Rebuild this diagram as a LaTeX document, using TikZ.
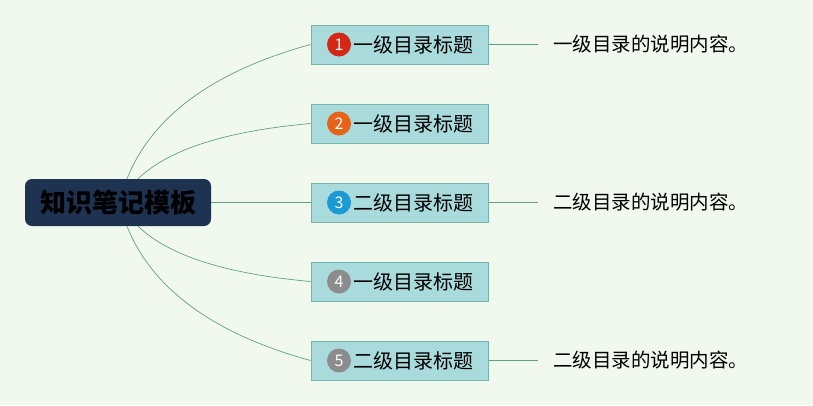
\documentclass[tikz,border=0pt]{standalone}
\usepackage{fontspec}
\setmainfont{Noto Sans CJK SC}
\definecolor{bgcol}{RGB}{241,249,239}
\definecolor{rootcol}{RGB}{30,50,82}
\definecolor{boxcol}{RGB}{170,219,220}
\definecolor{boxline}{RGB}{118,182,168}
\definecolor{linkcol}{RGB}{98,158,138}
\definecolor{numa}{RGB}{212,40,22}
\definecolor{numb}{RGB}{230,100,26}
\definecolor{numc}{RGB}{28,154,214}
\definecolor{numd}{RGB}{140,140,140}
\tikzset{
  rootbox/.style={fill=rootcol, rounded corners=7pt, minimum width=186pt, minimum height=47pt, inner sep=0pt, font=\fontsize{26}{28}\selectfont\bfseries},
  topic/.style={fill=boxcol, draw=boxline, line width=1pt, minimum width=177pt, minimum height=39pt, inner sep=0pt, font=\fontsize{20}{22}\selectfont},
  numdot/.style={circle, fill=#1, minimum size=24pt, inner sep=0pt, text=white, font=\fontsize{16}{18}\selectfont},
  note/.style={anchor=west, inner sep=0pt, font=\fontsize{19.5}{22}\selectfont},
  link/.style={draw=linkcol, line width=0.7pt}
}
\begin{document}
\begin{tikzpicture}[x=1pt,y=-1pt]
      \useasboundingbox[fill=bgcol] (0,0) rectangle (813,405);
      \draw
        (118,202.5) node[rootbox] (root){知识笔记模板}
        (399.5,44.5) node[topic] (b1){\hspace{27pt}一级目录标题}
        (399.5,123.5) node[topic] (b2){\hspace{27pt}一级目录标题}
        (399.5,202.5) node[topic] (b3){\hspace{27pt}二级目录标题}
        (399.5,281.5) node[topic] (b4){\hspace{27pt}一级目录标题}
        (399.5,360.5) node[topic] (b5){\hspace{27pt}二级目录标题}
        (339,44.5) node[numdot=numa] (n1){1}
        (339,123.5) node[numdot=numb] (n2){2}
        (339,202.5) node[numdot=numc] (n3){3}
        (339,281.5) node[numdot=numd] (n4){4}
        (339,360.5) node[numdot=numd] (n5){5}
        (553,44.5) node[note] (d1){一级目录的说明内容。}
        (553,202.5) node[note] (d3){二级目录的说明内容。}
        (553,360.5) node[note] (d5){二级目录的说明内容。};
      \begin{scope}[link]
        \draw ([xshift=9pt]root.north) .. controls (152,116) and (214,71) .. (b1.west);
        \draw ([xshift=20pt]root.north) .. controls (169,149) and (227,131) .. (b2.west);
        \draw (root.east) -- (b3.west);
        \draw ([xshift=20pt]root.south) .. controls (169,256) and (227,274) .. (b4.west);
        \draw ([xshift=9pt]root.south) .. controls (152,289) and (214,334) .. (b5.west);
        \draw (b1.east) -- ([xshift=-15pt]d1.west);
        \draw (b3.east) -- ([xshift=-15pt]d3.west);
        \draw (b5.east) -- ([xshift=-15pt]d5.west);
      \end{scope}
    \end{tikzpicture}
\end{document}
